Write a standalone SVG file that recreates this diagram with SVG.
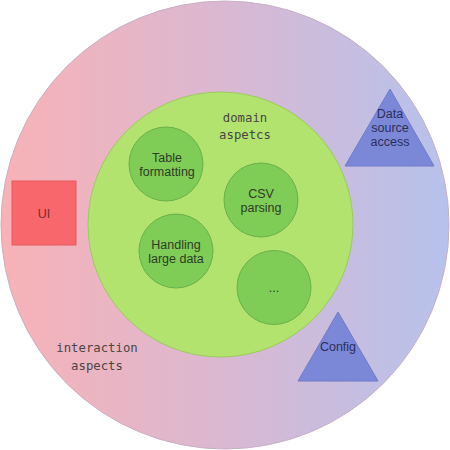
<svg xmlns="http://www.w3.org/2000/svg" width="450" height="450" viewBox="0 0 450 450">
<defs>
<linearGradient id="outerGrad" x1="0" y1="0" x2="1" y2="0">
<stop offset="0" stop-color="#f8b2b6"/>
<stop offset="0.5" stop-color="#dab8d2"/>
<stop offset="1" stop-color="#b6c2ec"/>
</linearGradient>
<style>
.sub{fill:#7fcc56;stroke:#6cb048;stroke-width:1}
.lbl{font-family:"Liberation Sans",Arial,sans-serif;font-size:12.5px;text-anchor:middle}
.g{fill:#2e3d25}
.b{fill:#2c2f5a}
.mono{font-family:"DejaVu Sans Mono","Liberation Mono",monospace;font-size:12.3px;text-anchor:middle;fill:#4a4545}
.tri{fill:#7b87d7;stroke:#6f7bc8;stroke-width:1}
</style>
</defs>
<rect width="450" height="450" fill="#ffffff"/>
<g id="interaction">
<circle cx="225" cy="225" r="224" fill="url(#outerGrad)" stroke="#c9b0c8" stroke-width="1"/>
<text class="mono" x="97" y="352">interaction</text>
<text class="mono" x="97" y="370">aspects</text>
</g>
<g id="domain">
<circle cx="220.5" cy="224.5" r="132.5" fill="#b2e36f" stroke="#9ccb5f" stroke-width="1"/>
<text class="mono" x="245" y="122">domain</text>
<text class="mono" x="245" y="139">aspetcs</text>
</g>
<g id="table-formatting">
<circle class="sub" cx="166" cy="164" r="37"/>
<text class="lbl g" x="167" y="162">Table</text>
<text class="lbl g" x="167" y="176">formatting</text>
</g>
<g id="csv-parsing">
<circle class="sub" cx="261" cy="200" r="37"/>
<text class="lbl g" x="261" y="198">CSV</text>
<text class="lbl g" x="261" y="212">parsing</text>
</g>
<g id="handling-large-data">
<circle class="sub" cx="176" cy="251" r="37"/>
<text class="lbl g" x="176" y="249">Handling</text>
<text class="lbl g" x="176" y="263">large data</text>
</g>
<g id="more">
<circle class="sub" cx="274" cy="287.5" r="37"/>
<text class="lbl g" x="274" y="292">...</text>
</g>
<g id="ui">
<rect x="12" y="181" width="64" height="64" fill="#f7676b" stroke="#e55a5e" stroke-width="1"/>
<text class="lbl" x="44" y="218" fill="#7a2a2c">UI</text>
</g>
<g id="data-source-access">
<polygon class="tri" points="390,89 434,166 345,166"/>
<text class="lbl b" x="390" y="118">Data</text>
<text class="lbl b" x="390" y="132">source</text>
<text class="lbl b" x="390" y="146">access</text>
</g>
<g id="config">
<polygon class="tri" points="338,312 378,381 298,381"/>
<text class="lbl b" x="338" y="351">Config</text>
</g>
<g id="connectors"></g>
</svg>
